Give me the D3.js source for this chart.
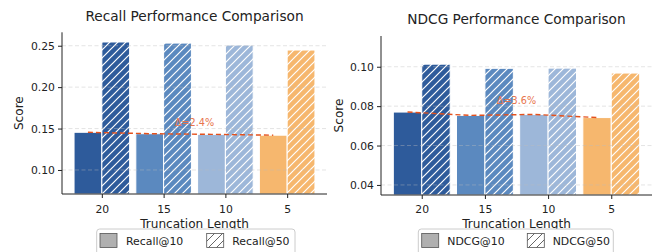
<!DOCTYPE html>
<html><head><meta charset="utf-8">
<script src="https://cdn.jsdelivr.net/npm/d3@7"></script>
<style>body{margin:0;background:#fff}svg{display:block;font-family:"DejaVu Sans",sans-serif}</style>
</head><body><svg id="c" width="660" height="252"></svg>
<script>
const categories = ["20","15","10","5"];
const recall10 = [0.1455,0.1438,0.1430,0.1420];
const recall50 = [0.2545,0.2532,0.2508,0.2448];
const ndcg10 = [0.0770,0.0753,0.0758,0.0742];
const ndcg50 = [0.1013,0.0992,0.0993,0.0968];
const recallTicks = [0.10,0.15,0.20,0.25];
const ndcgTicks = [0.04,0.06,0.08,0.10];
const colors = ["#2e5b9b","#5b89bf","#9db7d9","#f6b76e"];

const svg = d3.select("#c");
const defs = svg.append("defs");
colors.forEach((c,i)=>{
  const p = defs.append("pattern").attr("id","h"+i).attr("patternUnits","userSpaceOnUse")
    .attr("width",8).attr("height",8);
  p.append("rect").attr("width",8).attr("height",8).attr("fill",c);
  p.append("path").attr("d","M-2,2 L2,-2 M0,8 L8,0 M6,10 L10,6").attr("stroke","#fff").attr("stroke-width",1.2);
});
const lp = defs.append("pattern").attr("id","hl").attr("patternUnits","userSpaceOnUse").attr("width",8).attr("height",8);
lp.append("rect").attr("width",8).attr("height",8).attr("fill","#fff");
lp.append("path").attr("d","M-2,2 L2,-2 M0,8 L8,0 M6,10 L10,6").attr("stroke","#666").attr("stroke-width",1);

function panel(cfg){
  const g = svg.append("g");
  const x = d3.scaleLinear().domain([-0.645,3.645]).range([cfg.x0,cfg.x1]);
  const y = d3.scaleLinear().domain(cfg.ydom).range([cfg.y1,cfg.y0]);
  const w = 0.45;
  const bw = x(w)-x(0);
  categories.forEach((c,i)=>{
    g.append("rect").attr("x",x(i-w)).attr("width",bw).attr("y",y(cfg.a[i])).attr("height",cfg.y1-y(cfg.a[i]))
      .attr("fill",colors[i]).attr("stroke","#fff").attr("stroke-width",1);
    g.append("rect").attr("x",x(i)).attr("width",bw).attr("y",y(cfg.b[i])).attr("height",cfg.y1-y(cfg.b[i]))
      .attr("fill","url(#h"+i+")").attr("stroke","#fff").attr("stroke-width",1);
  });
  g.selectAll(".gl").data(cfg.ticks).enter().append("line")
    .attr("x1",cfg.x0).attr("x2",cfg.x1).attr("y1",d=>y(d)).attr("y2",d=>y(d))
    .attr("stroke","#bbb").attr("stroke-opacity",0.45).attr("stroke-dasharray","4,2.5").attr("stroke-width",0.9);
  const line = d3.line().x((d,i)=>x(i-w/2)).y(d=>y(d));
  g.append("path").attr("d",line(cfg.a)).attr("fill","none").attr("stroke","#e4501c")
    .attr("stroke-width",1.4).attr("stroke-dasharray","5,3");
  const delta = ((cfg.a[0]-cfg.a[cfg.a.length-1])/cfg.a[0]*100).toFixed(1);
  g.append("text").attr("x",x(1.5)).attr("y",y(d3.max(cfg.a)*1.05)).attr("text-anchor","middle")
    .attr("font-size",9.7).attr("fill","#e8744c").text("Δ="+delta+"%");
  const ya = d3.axisLeft(y).tickValues(cfg.ticks).tickFormat(d3.format(".2f")).tickSize(4).tickPadding(3);
  const yg = g.append("g").attr("transform",`translate(${cfg.x0},0)`).call(ya);
  yg.select(".domain").attr("d",`M0,${cfg.y0}V${cfg.y1}`);
  const xa = d3.axisBottom(x).tickValues(d3.range(categories.length)).tickFormat(i=>categories[i]).tickSize(4).tickPadding(4);
  const xg = g.append("g").attr("transform",`translate(0,${cfg.y1})`).call(xa);
  xg.select(".domain").attr("d",`M${cfg.x0},0H${cfg.x1}`);
  [yg,xg].forEach(a=>{a.selectAll("text").attr("font-size",10.8).attr("fill","#222").attr("font-family","DejaVu Sans");
    a.selectAll("line").attr("stroke","#222");a.select(".domain").attr("stroke","#222");});
  xg.selectAll("text").attr("dy",0).attr("y",212.5-cfg.y1);
  const cx=(cfg.x0+cfg.x1)/2;
  g.append("text").attr("x",cx).attr("y",cfg.ty).attr("text-anchor","middle").attr("font-size",13.7).attr("fill","#222").text(cfg.title);
  g.append("text").attr("x",cx).attr("y",227.5).attr("text-anchor","middle").attr("font-size",12.1).attr("fill","#222").text("Truncation Length");
  g.append("text").attr("transform",`translate(${cfg.sx},${(cfg.y0+cfg.y1)/2}) rotate(-90)`).attr("text-anchor","middle")
    .attr("dy","0.35em").attr("font-size",12.1).attr("fill","#222").text("Score");
  const L = cfg.leg;
  g.append("rect").attr("x",L.x0).attr("y",229).attr("width",L.x1-L.x0).attr("height",30).attr("rx",3)
    .attr("fill","#fff").attr("stroke","#ccc").attr("stroke-width",1);
  g.append("rect").attr("x",L.p1).attr("y",233.5).attr("width",17).attr("height",14).attr("fill","#b0b0b0").attr("stroke","#555").attr("stroke-width",0.8);
  g.append("text").attr("x",L.t1).attr("y",244.5).attr("font-size",10.9).attr("fill","#222").text(cfg.names[0]);
  g.append("rect").attr("x",L.p2).attr("y",233.5).attr("width",17).attr("height",14).attr("fill","url(#hl)").attr("stroke","#555").attr("stroke-width",0.8);
  g.append("text").attr("x",L.t2).attr("y",244.5).attr("font-size",10.9).attr("fill","#222").text(cfg.names[1]);
}

panel({x0:62,x1:327,y0:32.3,y1:194,ydom:[0.071,0.2662],a:recall10,b:recall50,ticks:recallTicks,
  title:"Recall Performance Comparison",ty:21,sx:18.3,names:["Recall@10","Recall@50"],
  leg:{x0:96.7,x1:295,p1:100,t1:126,p2:206.7,t2:232.3}});
panel({x0:381,x1:652,y0:36,y1:195,ydom:[0.0349,0.1156],a:ndcg10,b:ndcg50,ticks:ndcgTicks,
  title:"NDCG Performance Comparison",ty:23.5,sx:338.3,names:["NDCG@10","NDCG@50"],
  leg:{x0:418.3,x1:613.3,p1:421.7,t1:447.3,p2:527.3,t2:552.7}});
</script></body></html>
